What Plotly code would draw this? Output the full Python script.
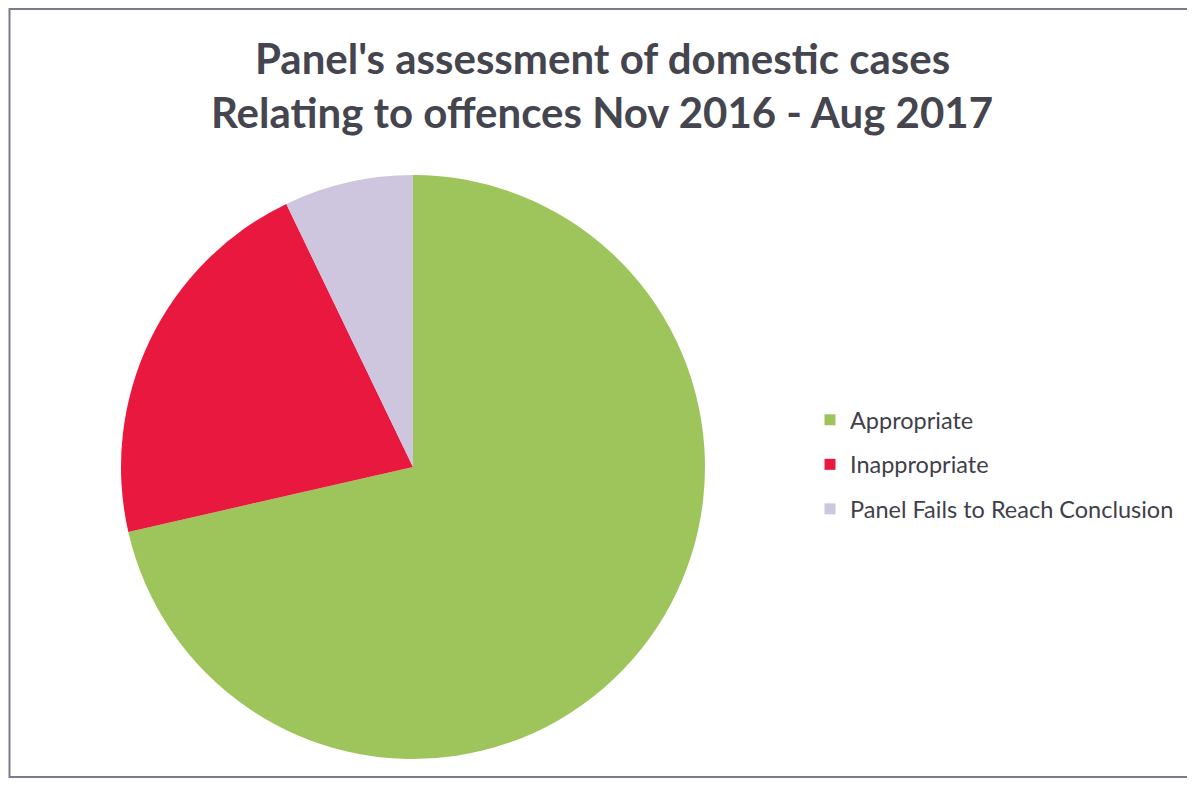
import plotly.graph_objects as go

labels = ["Appropriate", "Inappropriate", "Panel Fails to Reach Conclusion"]
values = [10, 3, 1]
colors = ["#9DC55B", "#E8183F", "#CEC5DE"]
title_lines = ["Panel's assessment of domestic cases", "Relating to offences Nov 2016 - Aug 2017"]

W, H = 1195, 787
OFF = 8  # page body margin in the browser


def px(x):
    return (x - OFF) / W


def py(y):
    return 1 - (y - OFF) / H


fig = go.Figure()
fig.add_trace(go.Pie(
    labels=labels, values=values,
    marker=dict(colors=colors, line=dict(width=0)),
    sort=False, direction="clockwise", rotation=0,
    textinfo="none", hoverinfo="label+value+percent",
    showlegend=False,
    domain=dict(x=[px(121), px(705)], y=[py(759), py(175)]),
))

# legend entries (one per category) so that item spacing matches the original
for lab, col in zip(labels, colors):
    fig.add_trace(go.Scatter(
        x=[None], y=[None], mode="markers", name=lab, legendgroup=lab,
        marker=dict(symbol="square", size=11, color=col),
    ))

title_font = dict(size=42, family="Lato, 'Open Sans', sans-serif", color="#45454F", weight="bold")
annotations = []
for line, yc in zip(title_lines, [58, 112]):
    annotations.append(dict(
        text=line, xref="paper", yref="paper", x=px(602), y=py(yc),
        xanchor="center", yanchor="middle", showarrow=False, font=title_font,
    ))

fig.update_layout(
    width=W, height=H,
    margin=dict(l=0, r=0, t=0, b=0),
    paper_bgcolor="white", plot_bgcolor="white",
    font=dict(family="Lato, 'Open Sans', sans-serif", color="#45454F"),
    annotations=annotations,
    xaxis=dict(visible=False), yaxis=dict(visible=False),
    legend=dict(
        x=px(810), xanchor="left", y=py(398), yanchor="top",
        font=dict(size=23.5, color="#3F3F4A"), tracegroupgap=11,
        bgcolor="rgba(0,0,0,0)",
    ),
    shapes=[dict(
        type="rect", xref="paper", yref="paper",
        x0=1.5 / W, x1=px(1199), y0=py(777), y1=py(9),
        line=dict(color="#7A7A90", width=2), layer="below",
    )],
)

fig.write_html("out.html")
